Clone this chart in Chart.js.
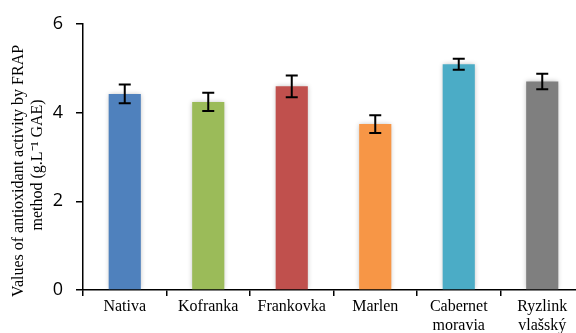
<!DOCTYPE html>
<html>
<head>
<meta charset="utf-8">
<script src="https://cdn.jsdelivr.net/npm/chart.js@4"></script>
<style>
  html, body { margin: 0; padding: 0; background: #fff; overflow: hidden; }
  #wrap { width: 584px; height: 333px; }
</style>
</head>
<body>
<div id="wrap"><canvas id="c" width="584" height="333"></canvas></div>
<script>
// Wine varieties and their FRAP antioxidant activity (g.L-1 GAE)
const varieties = ['Nativa', 'Kofranka', 'Frankovka', 'Marlen', ['Cabernet', 'moravia'], ['Ryzlink', 'vlašský']];
const frapValues = [4.42, 4.24, 4.59, 3.74, 5.09, 4.70];
const frapErrors = [0.21, 0.205, 0.245, 0.20, 0.125, 0.175];
const barColors = ['#4F81BD', '#9BBB59', '#C0504D', '#F79646', '#4BACC6', '#7F7F7F'];
const yTicks = [0, 2, 4, 6];
// trailing non-breaking spaces nudge each centred title line towards the bottom
const yTitle = [
  'Values of antioxidant activity by FRAP' + '\u00A0'.repeat(7),
  'method (g.L\u207B\u00B9 GAE)' + '\u00A0'.repeat(4)
];

// Soft shadow around the bars
const barShadow = {
  id: 'barShadow',
  beforeDatasetDraw(chart) {
    const ctx = chart.ctx;
    ctx.save();
    ctx.shadowColor = 'rgba(0,0,0,0.28)';
    ctx.shadowBlur = 5;
    ctx.shadowOffsetX = 0;
    ctx.shadowOffsetY = 0;
  },
  afterDatasetDraw(chart) {
    chart.ctx.restore();
  }
};

// Standard deviation whiskers on each bar
const errorBars = {
  id: 'errorBars',
  afterDatasetsDraw(chart) {
    const ctx = chart.ctx;
    const y = chart.scales.y;
    const meta = chart.getDatasetMeta(0);
    ctx.save();
    ctx.strokeStyle = '#000';
    ctx.lineWidth = 2;
    const cap = 6;
    meta.data.forEach((bar, i) => {
      const x = bar.x;
      const yTop = y.getPixelForValue(frapValues[i] + frapErrors[i]);
      const yBot = y.getPixelForValue(frapValues[i] - frapErrors[i]);
      ctx.beginPath();
      ctx.moveTo(x, yTop); ctx.lineTo(x, yBot);
      ctx.moveTo(x - cap, yTop); ctx.lineTo(x + cap, yTop);
      ctx.moveTo(x - cap, yBot); ctx.lineTo(x + cap, yBot);
      ctx.stroke();
    });
    ctx.restore();
  }
};

new Chart(document.getElementById('c'), {
  type: 'bar',
  data: {
    labels: varieties,
    datasets: [{
      data: frapValues,
      backgroundColor: barColors,
      borderWidth: 0,
      categoryPercentage: 1,
      barPercentage: 0.385
    }]
  },
  options: {
    responsive: false,
    animation: false,
    layout: { padding: { top: 21, right: 0, bottom: 0, left: 0 } },
    plugins: { legend: { display: false }, tooltip: { enabled: false } },
    scales: {
      x: {
        grid: { drawOnChartArea: false, drawTicks: true, tickLength: 6, color: '#000', lineWidth: 1.5 },
        border: { color: '#000', width: 1.5 },
        ticks: {
          color: '#000',
          padding: 2,
          maxRotation: 0,
          autoSkip: false,
          font: { family: '"Liberation Serif", "Times New Roman", serif', size: 16, lineHeight: 1.15 }
        },
        afterFit(scale) { scale.height = 43; }
      },
      y: {
        min: 0,
        max: 6,
        afterBuildTicks(scale) { scale.ticks = yTicks.map(v => ({ value: v })); },
        grid: { drawOnChartArea: false, drawTicks: true, tickLength: 7, color: '#000', lineWidth: 1.5 },
        border: { color: '#000', width: 1.5 },
        ticks: {
          color: '#000',
          padding: 13,
          font: { family: '"Open Sans", "Liberation Sans", sans-serif', size: 18 }
        },
        title: {
          display: true,
          text: yTitle,
          color: '#000',
          padding: { top: 9, bottom: 0 },
          font: { family: '"Liberation Serif", "Times New Roman", serif', size: 16, lineHeight: 1.2 }
        },
        afterFit(scale) { scale.width = 83; }
      }
    }
  },
  plugins: [barShadow, errorBars]
});
</script>
</body>
</html>
